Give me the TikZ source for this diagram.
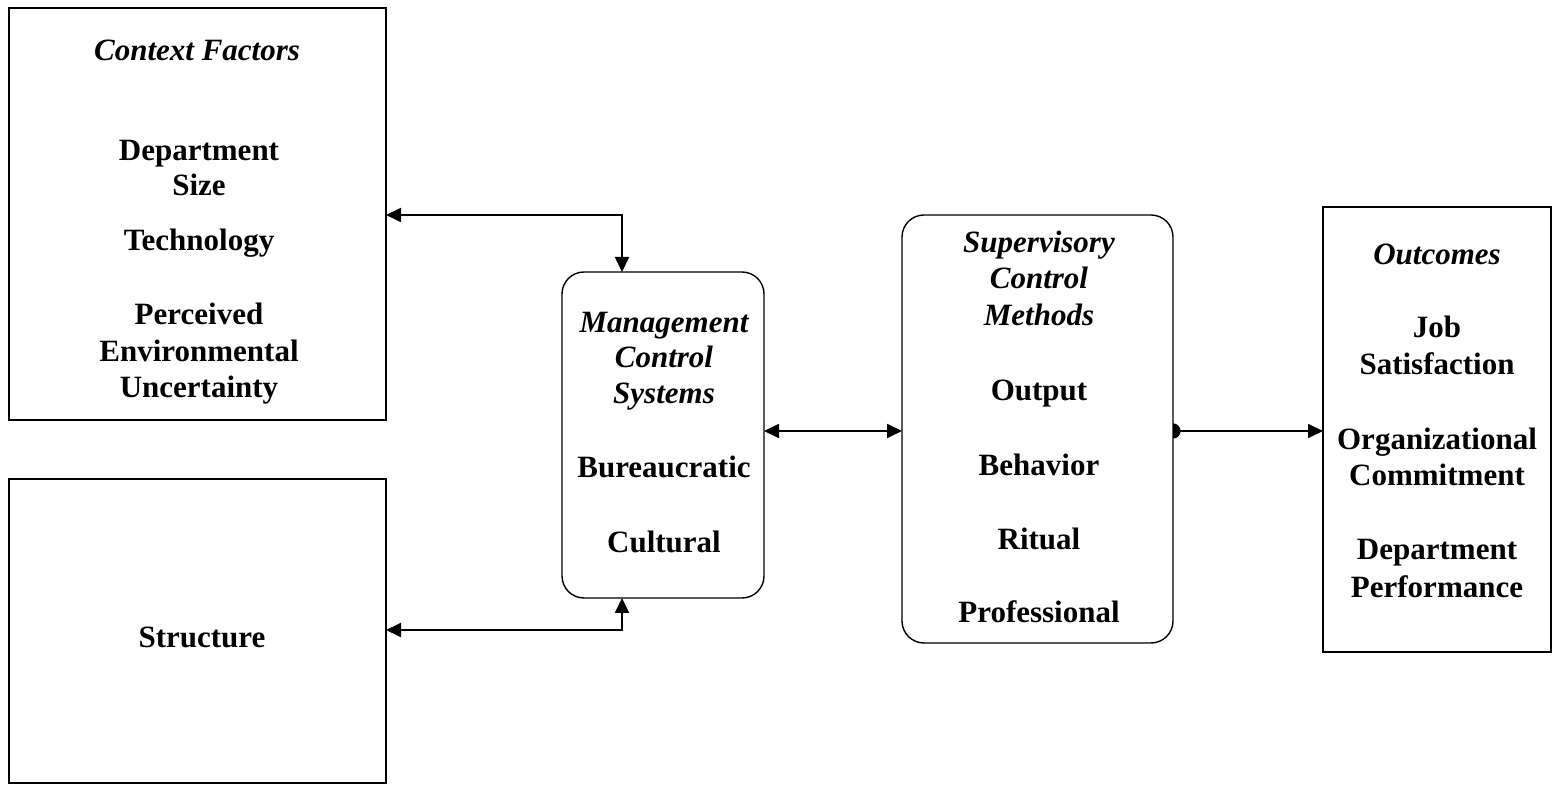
\documentclass[tikz,border=0pt]{standalone}
\usepackage{fontspec}
\setmainfont{Liberation Serif}
\usetikzlibrary{arrows.meta}
\begin{document}
\begin{tikzpicture}[x=0.5pt,y=-0.5pt,
  box/.style={draw, line width=0.7pt, inner sep=0pt, outer sep=0pt},
  rbox/.style={box, rounded corners=11pt},
  lbl/.style={font=\fontsize{15.5}{18}\selectfont\bfseries, inner sep=0pt, anchor=base},
  head/.style={lbl, font=\fontsize{15.5}{18}\selectfont\bfseries\itshape},
  >={Triangle[length=7.5pt,width=7pt]},
  conn/.style={line width=0.9pt}]
\useasboundingbox (0,0) rectangle (1558,785);

% boxes
\node[box, minimum width=188.5pt, minimum height=206pt] (ctx) at (197.5,214) {};
\node[box, minimum width=188.5pt, minimum height=152pt] (str) at (197.5,631) {};
\node[rbox, minimum width=101pt, minimum height=163pt] (mgmt) at (663,435) {};
\node[rbox, minimum width=135.5pt, minimum height=214pt] (sup) at (1037.5,429) {};
\node[box, minimum width=114pt, minimum height=222.5pt] (out) at (1437,429.5) {};

% context factors
\node[head] (ctxH) at (197,61) {Context Factors};
\node[lbl] (c1) at (199,161) {Department};
\node[lbl] (c2) at (199,196) {Size};
\node[lbl] (c3) at (199,251) {Technology};
\node[lbl] (c4) at (199,325) {Perceived};
\node[lbl] (c5) at (199,362) {Environmental};
\node[lbl] (c6) at (199,398) {Uncertainty};

% structure
\node[lbl] (s1) at (202,647) {Structure};

% management control systems
\node[head] (m1) at (664,333) {Management};
\node[head] (m2) at (664,368) {Control};
\node[head] (m3) at (664,404) {Systems};
\node[lbl] (m4) at (664,478) {Bureaucratic};
\node[lbl] (m5) at (664,553) {Cultural};

% supervisory control methods
\node[head] (v1) at (1039,253) {Supervisory};
\node[head] (v2) at (1039,289) {Control};
\node[head] (v3) at (1039,326) {Methods};
\node[lbl] (v4) at (1039,401) {Output};
\node[lbl] (v5) at (1039,476) {Behavior};
\node[lbl] (v6) at (1039,550) {Ritual};
\node[lbl] (v7) at (1039,623) {Professional};

% outcomes
\node[head] (o1) at (1437,265) {Outcomes};
\node[lbl] (o2) at (1437,338) {Job};
\node[lbl] (o3) at (1437,375) {Satisfaction};
\node[lbl] (o4) at (1437,450) {Organizational};
\node[lbl] (o5) at (1437,486) {Commitment};
\node[lbl] (o6) at (1437,560) {Department};
\node[lbl] (o7) at (1437,597) {Performance};

% connectors
\coordinate (j1) at (622,215);
\coordinate (j2) at (622,630);
\coordinate (mid) at (800,431);
\coordinate (dot) at (sup.east |- mid);
\draw[conn, <->] (ctx.east |- j1) -- (j1) -- (j1 |- mgmt.north);
\draw[conn, <->] (str.east |- j2) -- (j2) -- (j2 |- mgmt.south);
\draw[conn, <->] (mgmt.east |- mid) -- (sup.west |- mid);
\draw[conn, ->] (dot) -- (out.west |- mid);
\fill ([yshift=3.8pt]dot) arc[start angle=90, end angle=-90, radius=3.8pt] -- cycle;
\end{tikzpicture}
\end{document}
